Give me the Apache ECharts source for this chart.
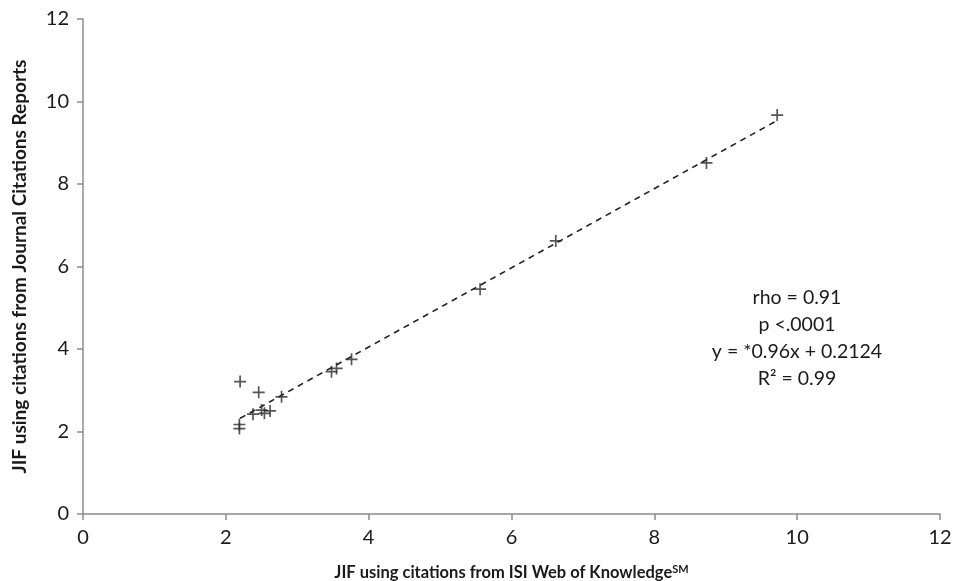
<!DOCTYPE html>
<html>
<head>
<meta charset="utf-8">
<script src="https://cdn.jsdelivr.net/npm/echarts@6/dist/echarts.min.js"></script>
<style>
  html, body { margin: 0; padding: 0; background: #fff; }
  #chart { width: 954px; height: 581px; }
</style>
</head>
<body>
<div id="chart"></div>
<script>
// ISI Web of Knowledge JIF (x) vs Journal Citations Reports JIF (y)
var isiJif = [9.72, 8.73, 6.62, 5.56, 3.76, 3.55, 3.48, 2.78, 2.62, 2.54, 2.50, 2.38, 2.46, 2.20, 2.19, 2.19];
var jcrJif = [9.67, 8.51, 6.62, 5.45, 3.75, 3.53, 3.45, 2.84, 2.50, 2.44, 2.52, 2.42, 2.95, 3.21, 2.17, 2.07];

// trend line end points
var trendX = [2.2, 9.7];
var trendY = [2.32, 9.52];

var statLines = ['rho = 0.91', 'p <.0001', 'y = *0.96x + 0.2124', 'R\u00b2 = 0.99'];

var font = 'Lato, "Open Sans", sans-serif';
var plusPath = 'path://M4.3,0H5.7V4.3H10V5.7H5.7V10H4.3V5.7H0V4.3H4.3Z';

var chart = echarts.init(document.getElementById('chart'));

var points = isiJif.map(function (x, i) { return [x, jcrJif[i]]; });
var trend = trendX.map(function (x, i) { return [x, trendY[i]]; });

var axisCommon = {
    type: 'value',
    min: 0,
    max: 12,
    interval: 2,
    splitLine: { show: false },
    axisLine: { show: true, lineStyle: { color: '#8c8c8c', width: 1.5 } },
    axisTick: { show: true, length: 6, lineStyle: { color: '#8c8c8c', width: 1.5 } },
    axisLabel: { color: '#1a1a1a', fontSize: 20, fontFamily: font, margin: 14 },
    nameLocation: 'middle'
};

var option = {
    backgroundColor: '#fff',
    animation: false,
    grid: { left: 83, right: 14, top: 19, bottom: 67, containLabel: false, outerBoundsMode: 'none' },
    xAxis: Object.assign({}, axisCommon, {
        name: '{t|JIF using citations from ISI Web of Knowledge}{s|SM}',
        nameGap: 50,
        nameTextStyle: {
            rich: {
                t: { color: '#1a1a1a', fontSize: 16.5, fontWeight: 'bold', fontFamily: font },
                s: { color: '#1a1a1a', fontSize: 11, fontWeight: 'bold', fontFamily: font, verticalAlign: 'top', padding: [0, 0, 7, 0] }
            }
        }
    }),
    yAxis: Object.assign({}, axisCommon, {
        name: 'JIF using citations from Journal Citations Reports',
        nameGap: 54,
        nameTextStyle: { color: '#1a1a1a', fontSize: 19, fontWeight: 'bold', fontFamily: font }
    }),
    series: [
        {
            type: 'line',
            data: trend,
            symbol: 'none',
            lineStyle: { color: '#222', width: 1.6, type: [6, 5] },
            z: 1
        },
        {
            type: 'scatter',
            data: points,
            symbol: plusPath,
            symbolSize: 12,
            itemStyle: { color: '#2a2a2a' },
            z: 2
        }
    ],
    graphic: [
        {
            type: 'text',
            x: 797,
            y: 284,
            style: {
                text: statLines.join('\n'),
                align: 'center',
                fill: '#1a1a1a',
                fontSize: 19.5,
                lineHeight: 27,
                fontFamily: font
            }
        }
    ]
};

chart.setOption(option);
</script>
</body>
</html>
